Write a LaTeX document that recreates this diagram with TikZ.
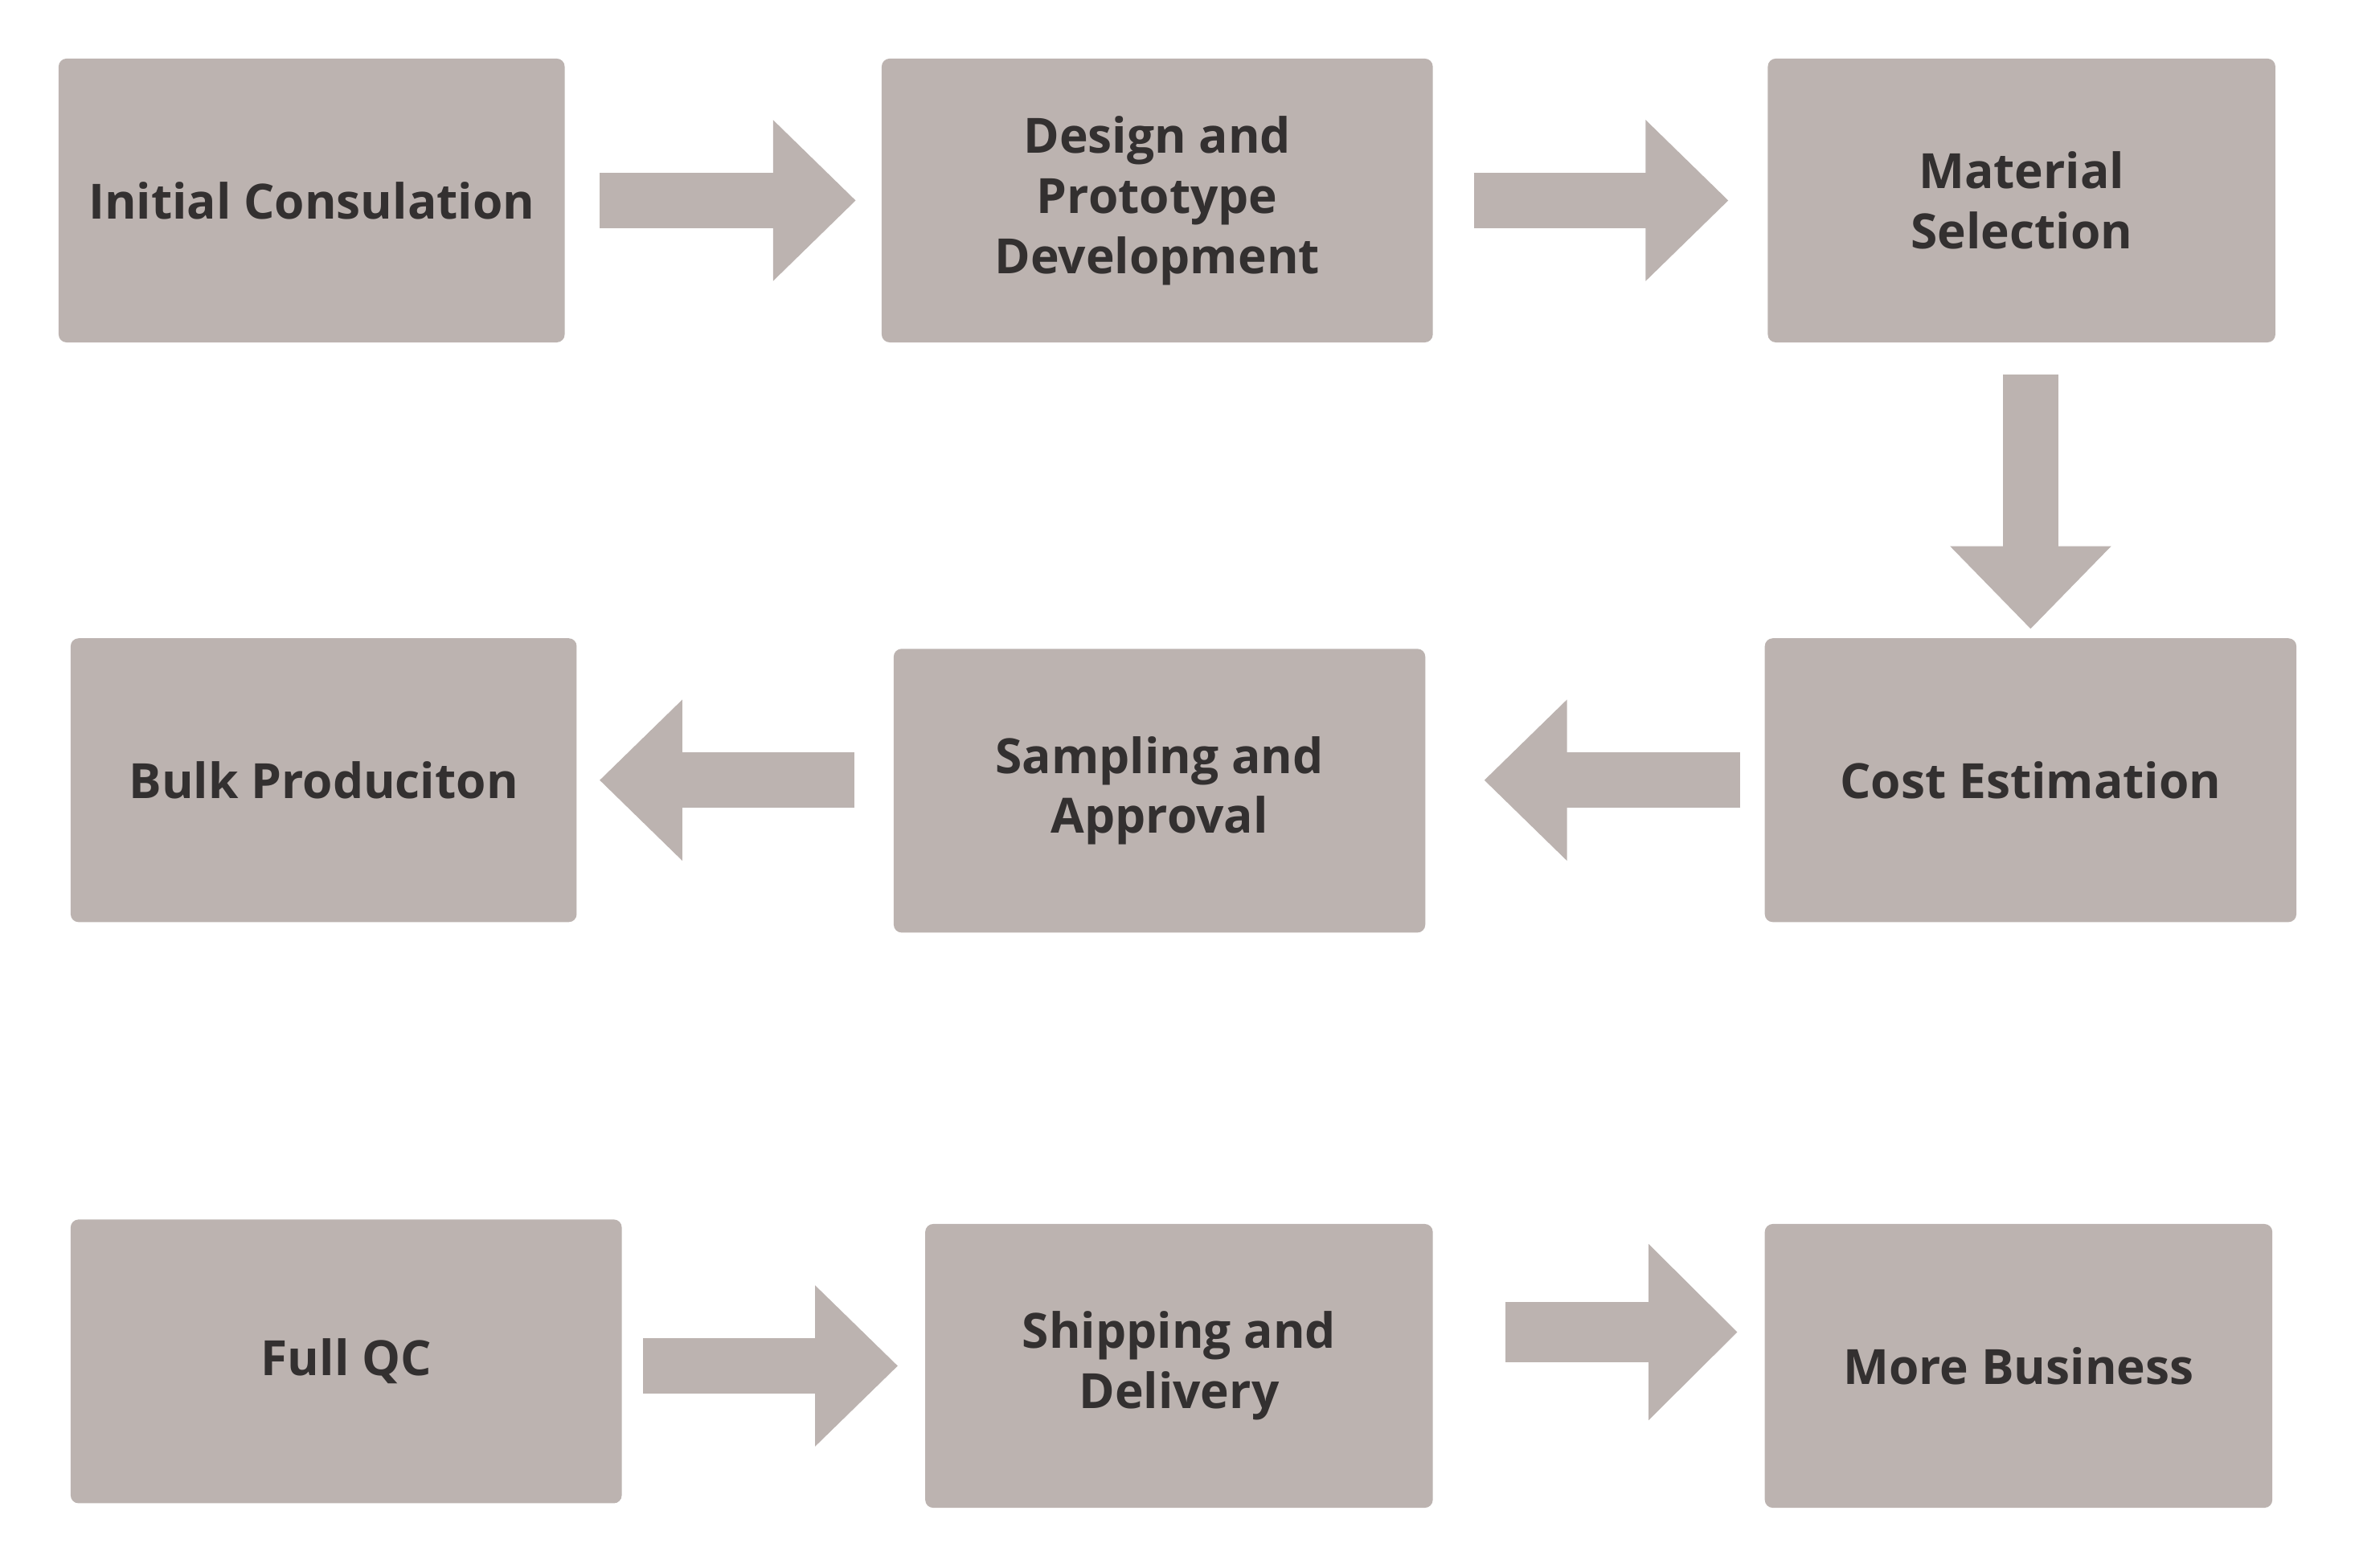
\documentclass[tikz,border=0pt]{standalone}
\usepackage{fontspec}
\setmainfont{Open Sans}
\usetikzlibrary{
  arrows.meta,
  calc
}
\definecolor{stone}{HTML}{BCB3B0}
\definecolor{ink}{HTML}{333030}
\tikzset{
  stepbox/.style={
    fill=stone,
    rounded corners=3pt,
    minimum height=3.78cm,
    inner sep=0pt,
    align=center,
    text=ink,
    font=\fontsize{18.4}{22.8}\selectfont\bfseries
  },
  blockarrow/.style={
    -{Triangle[length=1.1cm, width=2.14cm, line width=1pt]},
    line width=0.74cm,
    draw=stone
  },
  widearrow/.style={
    -{Triangle[length=1.18cm, width=2.34cm, line width=1pt]},
    line width=0.8cm,
    draw=stone
  }
}

\begin{document}
\begin{tikzpicture}[x=0.02cm, y=-0.02cm]
  \useasboundingbox (0,0) rectangle (1568,1044);

  % first row
  \node[stepbox, minimum width=6.74cm] (init) at (207.5,133.5) {Initial Consulation};
  \node[stepbox, minimum width=7.34cm] (design) at (770.5,133.5)
    {Design and\\Prototype\\Development};
  \node[stepbox, minimum width=6.76cm] (material) at (1346,133.5)
    {Material\\Selection};

  % second row
  \node[stepbox, minimum width=7.08cm] (cost) at (1352,519.5) {Cost Estimation};
  \node[stepbox, minimum width=7.08cm] (sampling) at (772,526.5)
    {Sampling and\\Approval};
  \node[stepbox, minimum width=6.74cm] (bulk) at (215.5,519.5) {Bulk Produciton};

  % third row
  \node[stepbox, minimum width=7.34cm] (fullqc) at (230.5,906.5) {Full QC};
  \node[stepbox, minimum width=6.76cm] (shipping) at (785,909.5)
    {Shipping and\\Delivery};
  \node[stepbox, minimum width=6.76cm] (more) at (1344,909.5) {More Business};

  \draw[blockarrow] ($(init.east)+(23,0)$) -- ($(design.west)+(-17,0)$);
  \draw[blockarrow] ($(design.east)+(27,0)$) -- ($(material.west)+(-26,0)$);
  \draw[blockarrow] ($(material.south -| cost.north)+(0,21)$) -- ($(cost.north)+(0,-6)$);
  \draw[blockarrow] ($(cost.west)+(-16,0)$) -- ($(sampling.east |- cost.west)+(39,0)$);
  \draw[blockarrow] ($(sampling.west |- bulk.east)+(-26,0)$) -- ($(bulk.east)+(15,0)$);
  \draw[blockarrow] ($(fullqc.east)+(14,3)$) -- ($(shipping.west)+(-18,0)$);
  \draw[widearrow] ($(shipping.east)+(48,-22.5)$) -- ($(more.west)+(-18,-22.5)$);
\end{tikzpicture}
\end{document}
